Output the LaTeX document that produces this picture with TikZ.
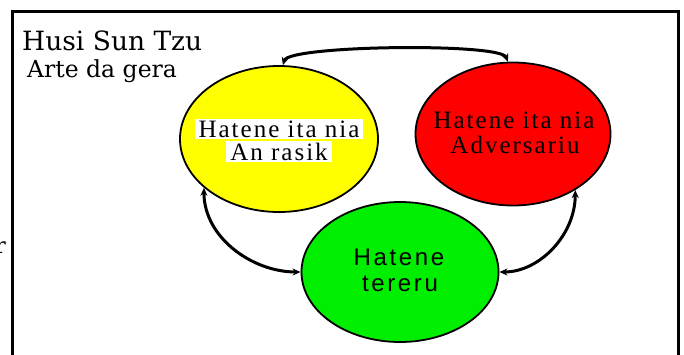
\documentclass[tikz,border=0pt]{standalone}
\usepackage{fontspec}
\setmainfont{Liberation Serif}
\newfontfamily\titlefont{DejaVu Serif}
\newfontfamily\circserif[LetterSpace=8]{Liberation Serif}
\newfontfamily\circsans[LetterSpace=11]{Liberation Sans}
\usetikzlibrary{shapes.geometric,arrows.meta}
\definecolor{cyellow}{RGB}{255,255,0}
\definecolor{cred}{RGB}{255,0,0}
\definecolor{cgreen}{RGB}{0,238,0}
\tikzset{
  ell/.style={ellipse, draw=black, line width=1.8pt, inner sep=0pt},
  ttl/.style={font=\titlefont\fontsize{26.5}{29}\selectfont, inner sep=0pt, anchor=base west},
  sub/.style={font=\titlefont\fontsize{23.5}{26}\selectfont, inner sep=0pt, anchor=base west},
  stxt/.style={font=\circserif\fontsize{25}{27}\selectfont, inner sep=0pt, anchor=base},
  wtxt/.style={stxt, fill=white, inner xsep=4pt, inner ysep=1.5pt},
  gtxt/.style={font=\circsans\fontsize{24}{26}\selectfont, inner sep=0pt, anchor=base},
  conn/.style={line width=3pt, {Stealth[length=8pt,width=7pt]}-{Stealth[length=8pt,width=7pt]}},
}
\begin{document}
\begin{tikzpicture}[x=1pt,y=-1pt]
\useasboundingbox (0,0) rectangle (684,354);
\clip (0,0) rectangle (684,354);
\fill[white] (0,0) rectangle (684,354);
% frame
\draw[line width=3pt] (12,370) -- (12,11) -- (678,11) -- (678,370);
% partial letter at left edge
\node[font=\titlefont\fontsize{22}{24}\selectfont, inner sep=0pt, anchor=base east] (cut) at (6,253) {r};
% titles
\node[ttl] (t1) at (22,50) {Husi Sun Tzu};
\node[sub] (t2) at (27,77) {Arte da gera};
% ellipses
\node[ell, fill=cyellow, minimum width=198pt, minimum height=146pt] (y) at (279,139) {};
\node[ell, fill=cred, minimum width=195pt, minimum height=143pt] (r) at (513,134) {};
\node[ell, fill=cgreen, minimum width=197pt, minimum height=140pt] (g) at (400,272) {};
% texts
\node[wtxt] (y1) at (279,137) {Hatene ita nia};
\node[wtxt] (y2) at (279,160) {An rasik};
\node[stxt] (r1) at (514,128) {Hatene ita nia};
\node[stxt] (r2) at (515,153) {Adversariu};
\node[gtxt] (g1) at (399,265) {Hatene};
\node[gtxt] (g2) at (400,291) {tereru};
% connectors
\draw[conn] (y.87) .. controls +(6,-20) and +(-8,-19) .. (r.94);
\draw[conn] (y.213) .. controls +(0,50) and +(-48,0) .. (g.west);
\draw[conn] (g.east) .. controls +(40,0) and +(0,45) .. (r.318);
\end{tikzpicture}
\end{document}
